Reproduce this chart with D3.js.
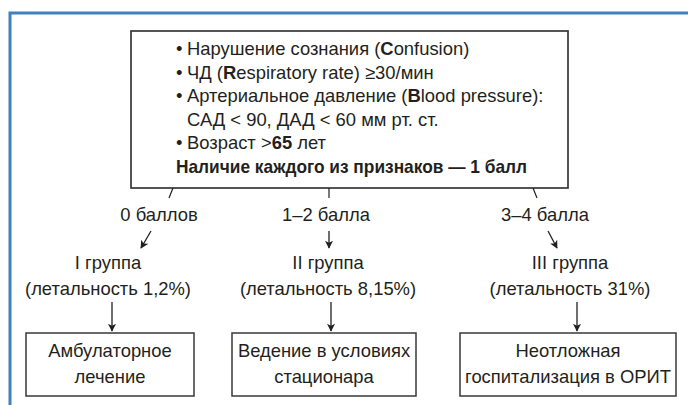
<!DOCTYPE html>
<html>
<head>
<meta charset="utf-8">
<script src="https://cdn.jsdelivr.net/npm/d3@7"></script>
<style>
  body { margin: 0; background: #fff; }
  svg { display: block; }
  text { font-family: "Liberation Sans", Arial, sans-serif; font-size: 18.4px; fill: #231f20; }
</style>
</head>
<body>
<svg id="chart" width="688" height="405"></svg>
<script>
'use strict'

// criteria (CRB-65), each row: [text, bold?] segments
const criteriaRows = [
  [['Нарушение сознания (', 0], ['C', 1], ['onfusion)', 0]],
  [['ЧД (', 0], ['R', 1], ['espiratory rate) ≥30/мин', 0]],
  [['Артериальное давление (', 0], ['B', 1], ['lood pressure):', 0]],
  [['САД < 90, ДАД < 60 мм рт. ст.', 0]],
  [['Возраст >', 0], ['65', 1], [' лет', 0]],
  [['Наличие каждого из признаков — 1 балл', 1]]
]
const bulletRows = [true, true, true, false, true, false]
const indentRows = [true, true, true, true, true, false]

const scoreLabels = ['0 баллов', '1–2 балла', '3–4 балла']
const groupLabels = ['I группа', 'II группа', 'III группа']
const mortality = ['1,2%', '8,15%', '31%']
const outcomes = [
  ['Амбулаторное', 'лечение'],
  ['Ведение в условиях', 'стационара'],
  ['Неотложная', 'госпитализация в ОРИТ']
]

const svg = d3.select('#chart')
const ink = '#231f20'
const boxStroke = '#383838'

// column positions for each branch
const cols = d3.range(3)
const xScore = d3.scaleOrdinal().domain(cols).range([159, 326, 545])
const xGroup = d3.scaleOrdinal().domain(cols).range([108, 328, 570])
const xDown = d3.scaleOrdinal().domain(cols).range([112, 331, 577])
const xArrowTop = d3.scaleOrdinal().domain(cols).range([[151, 141], [329, 329], [548, 557]])
const xStem = d3.scaleOrdinal().domain(cols).range([[173, 169], [329, 329], [533, 537]])
const boxX = d3.scaleOrdinal().domain(cols).range([[26, 194], [232, 416], [460, 676]])
const rowY = d3.scaleLinear().domain([0, 5]).range([55, 173])

// outer blue frame
svg.append('path')
  .attr('d', 'M10,405 V13 H688')
  .attr('fill', 'none')
  .attr('stroke', '#3f80bd')
  .attr('stroke-width', 3)

// arrow marker
svg.append('defs').append('marker')
  .attr('id', 'arr')
  .attr('viewBox', '0 0 10 10')
  .attr('refX', 9)
  .attr('refY', 5)
  .attr('markerWidth', 8)
  .attr('markerHeight', 8)
  .attr('markerUnits', 'userSpaceOnUse')
  .attr('orient', 'auto')
  .append('path')
  .attr('d', 'M0,0 L10,5 L0,10 L2.5,5 Z')
  .attr('fill', ink)

// main criteria box
svg.append('rect')
  .attr('x', 131).attr('y', 31)
  .attr('width', 437).attr('height', 157)
  .attr('fill', 'none')
  .attr('stroke', boxStroke)
  .attr('stroke-width', 1.7)

const rows = svg.append('g').selectAll('g.row')
  .data(criteriaRows)
  .enter()
  .append('g')
  .attr('class', 'row')

rows.filter((d, i) => bulletRows[i])
  .append('text')
  .attr('x', 176)
  .attr('y', d => rowY(criteriaRows.indexOf(d)))
  .text('•')

rows.append('text')
  .attr('x', (d, i) => indentRows[i] ? 187 : 176)
  .attr('y', (d, i) => rowY(i))
  .each(function (d, i) {
    const t = d3.select(this)
    d.forEach(p => {
      t.append('tspan')
        .attr('font-weight', p[1] ? 'bold' : 'normal')
        .text(p[0])
    })
    // the bold summary line is set in a narrower face in the original
    if (!indentRows[i]) {
      t.attr('textLength', 351).attr('lengthAdjust', 'spacingAndGlyphs')
    }
  })

// stems from main box
svg.append('g').selectAll('line')
  .data(cols)
  .enter()
  .append('line')
  .attr('x1', i => xStem(i)[0]).attr('y1', 188)
  .attr('x2', i => xStem(i)[1]).attr('y2', 198)
  .attr('stroke', ink)
  .attr('stroke-width', 1.2)

// score labels
svg.append('g').selectAll('text')
  .data(scoreLabels)
  .enter()
  .append('text')
  .attr('x', (d, i) => xScore(i))
  .attr('y', 221)
  .attr('text-anchor', 'middle')
  .text(d => d)

// short arrows to groups
svg.append('g').selectAll('line')
  .data(cols)
  .enter()
  .append('line')
  .attr('x1', i => xArrowTop(i)[0]).attr('y1', 231)
  .attr('x2', i => xArrowTop(i)[1]).attr('y2', 248)
  .attr('stroke', ink)
  .attr('stroke-width', 1.3)
  .attr('marker-end', 'url(#arr)')

// group labels + mortality
svg.append('g').selectAll('text')
  .data(groupLabels)
  .enter()
  .append('text')
  .attr('x', (d, i) => xGroup(i))
  .attr('y', 269)
  .attr('text-anchor', 'middle')
  .text(d => d)

svg.append('g').selectAll('text')
  .data(mortality)
  .enter()
  .append('text')
  .attr('x', (d, i) => xGroup(i))
  .attr('y', 295)
  .attr('text-anchor', 'middle')
  .text(d => '(летальность ' + d + ')')

// long arrows to outcome boxes
svg.append('g').selectAll('line')
  .data(cols)
  .enter()
  .append('line')
  .attr('x1', i => xDown(i)).attr('y1', 302)
  .attr('x2', i => xDown(i)).attr('y2', 331)
  .attr('stroke', ink)
  .attr('stroke-width', 1.3)
  .attr('marker-end', 'url(#arr)')

// outcome boxes
const ob = svg.append('g').selectAll('g')
  .data(outcomes)
  .enter()
  .append('g')

ob.append('rect')
  .attr('x', (d, i) => boxX(i)[0])
  .attr('y', 333)
  .attr('width', (d, i) => boxX(i)[1] - boxX(i)[0])
  .attr('height', 63)
  .attr('fill', 'none')
  .attr('stroke', boxStroke)
  .attr('stroke-width', 1.5)

ob.each(function (d, i) {
  const cx = (boxX(i)[0] + boxX(i)[1]) / 2
  d3.select(this).selectAll('text')
    .data(d)
    .enter()
    .append('text')
    .attr('x', cx)
    .attr('y', (l, j) => 357 + j * 26)
    .attr('text-anchor', 'middle')
    .text(l => l)
})
</script>
</body>
</html>
